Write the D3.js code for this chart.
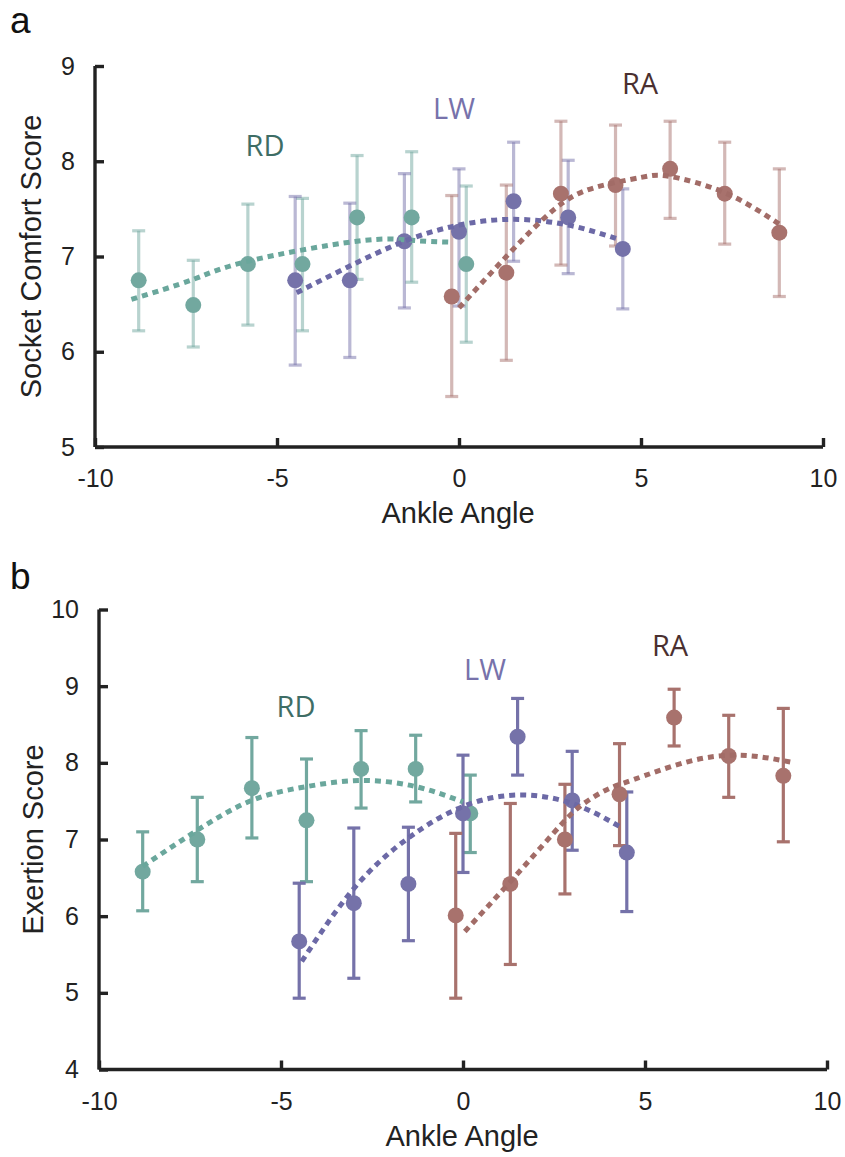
<!DOCTYPE html>
<html>
<head>
<meta charset="utf-8">
<script src="https://cdn.jsdelivr.net/npm/d3@7"></script>
<style>
  body { margin: 0; background: #fff; }
  svg { display: block; }
  .tick text { font-family: "Liberation Sans", Arial, sans-serif; }
</style>
</head>
<body>
<svg id="chart" width="845" height="1157"></svg>
<script>
// ankle angle of each condition (same in both panels)
var rdAngle = [-8.8, -7.3, -5.8, -4.3, -2.8, -1.3, 0.2];
var lwAngle = [-4.5, -3.0, -1.5, 0.0, 1.5, 3.0, 4.5];
var raAngle = [-0.2, 1.3, 2.8, 4.3, 5.8, 7.3, 8.8];

// panel a - socket comfort
var comfortRD   = [6.75, 6.49, 6.92, 6.92, 7.41, 7.41, 6.92];
var comfortRDlo = [6.22, 6.05, 6.28, 6.22, 6.76, 6.73, 6.10];
var comfortRDhi = [7.27, 6.96, 7.55, 7.61, 8.06, 8.10, 7.74];
var comfortLW   = [6.75, 6.75, 7.16, 7.26, 7.58, 7.41, 7.08];
var comfortLWlo = [5.86, 5.94, 6.46, 6.48, 6.95, 6.82, 6.45];
var comfortLWhi = [7.63, 7.56, 7.87, 7.92, 8.20, 8.01, 7.71];
var comfortRA   = [6.58, 6.83, 7.66, 7.75, 7.92, 7.66, 7.25];
var comfortRAlo = [5.53, 5.91, 6.91, 7.11, 7.40, 7.13, 6.58];
var comfortRAhi = [7.64, 7.75, 8.42, 8.38, 8.42, 8.20, 7.92];

// fitted curves
var comfortFitRDx = [-9.0, -7.3, -5.8, -2.8, -1.3, -0.2];
var comfortFitRDy = [6.55, 6.76, 6.95, 7.16, 7.17, 7.15];
var comfortFitLWx = [-4.46, -3.0, -1.5, 0.0, 1.5, 3.0, 4.4];
var comfortFitLWy = [6.62, 6.90, 7.16, 7.33, 7.39, 7.33, 7.18];
var comfortFitRAx = [0.0, 1.3, 2.6, 3.7, 5.0, 5.8, 7.3, 8.8];
var comfortFitRAy = [6.46, 7.00, 7.49, 7.72, 7.83, 7.84, 7.67, 7.34];

// panel b - exertion
var exertRD   = [6.58, 7.00, 7.67, 7.25, 7.92, 7.92, 7.34];
var exertRDlo = [6.07, 6.45, 7.02, 6.45, 7.41, 7.49, 6.83];
var exertRDhi = [7.10, 7.55, 8.33, 8.05, 8.42, 8.36, 7.84];
var exertLW   = [5.67, 6.17, 6.42, 7.34, 8.34, 7.51, 6.83];
var exertLWlo = [4.93, 5.19, 5.68, 6.57, 7.84, 6.86, 6.06];
var exertLWhi = [6.43, 7.15, 7.16, 8.10, 8.84, 8.15, 7.62];
var exertRA   = [6.01, 6.42, 7.00, 7.59, 8.59, 8.09, 7.83];
var exertRAlo = [4.93, 5.37, 6.29, 6.92, 8.22, 7.55, 6.97];
var exertRAhi = [7.08, 7.47, 7.72, 8.25, 8.96, 8.62, 8.71];

var exertFitRDx = [-8.8, -7.3, -5.8, -4.3, -2.8, -1.3, 0.0];
var exertFitRDy = [6.65, 7.12, 7.51, 7.69, 7.77, 7.69, 7.49];
var exertFitLWx = [-4.43, -3.0, -1.5, 0.0, 1.5, 3.0, 4.3];
var exertFitLWy = [5.41, 6.36, 7.02, 7.43, 7.58, 7.47, 7.17];
var exertFitRAx = [0.05, 1.3, 2.48, 3.21, 3.95, 4.68, 6.14, 7.61, 9.0];
var exertFitRAy = [5.80, 6.45, 7.08, 7.43, 7.65, 7.78, 8.01, 8.10, 8.01];

var xTicks = [-10, -5, 0, 5, 10];
var comfortTicks = [5, 6, 7, 8, 9];
var exertTicks = [4, 5, 6, 7, 8, 9, 10];
var conditions = ["RD", "LW", "RA"];

var svg = d3.select("#chart");

function zip(xs, ys) {
  return xs.map(function(x, i) { return [x, ys[i]]; });
}

// plain hyphen minus like the original figure
function fmt(d) { return String(d); }

function drawPanel(p) {
  var x = d3.scaleLinear().domain([-10, 10]).range([p.left, p.right]);
  var y = d3.scaleLinear().domain(p.yDomain).range([p.bottom, p.top]);
  var g = svg.append("g");

  // axes (ticks inside, like matlab)
  var xAxis = g.append("g")
      .attr("transform", "translate(0," + p.bottom + ")")
      .call(d3.axisBottom(x).tickValues(xTicks).tickSize(-9).tickFormat(fmt));
  var yAxis = g.append("g")
      .attr("transform", "translate(" + p.left + ",0)")
      .call(d3.axisLeft(y).tickValues(p.yTicks).tickSize(-9).tickPadding(20).tickFormat(fmt));
  [xAxis, yAxis].forEach(function(a) {
    a.select(".domain").attr("stroke", "#222").attr("stroke-width", 3.4);
    a.selectAll(".tick line").attr("stroke", "#222").attr("stroke-width", 3.4);
    a.selectAll(".tick text").attr("fill", "#222").attr("font-size", 25);
  });
  xAxis.selectAll(".tick text").attr("dy", 0).attr("y", 40);
  xAxis.select(".domain").attr("d", "M" + p.left + ",0H" + p.right);
  yAxis.select(".domain").attr("d", "M0," + p.top + "V" + p.bottom);

  g.append("text")
      .attr("x", (p.left + p.right) / 2 - 1)
      .attr("y", p.bottom + 76)
      .attr("text-anchor", "middle")
      .attr("font-family", "Liberation Sans, Arial, sans-serif")
      .attr("font-size", 29)
      .attr("fill", "#222")
      .text("Ankle Angle");
  g.append("text")
      .attr("transform", "translate(" + p.yLabelX + "," + (p.top + p.bottom) / 2 + ") rotate(-90)")
      .attr("text-anchor", "middle")
      .attr("font-family", "Liberation Sans, Arial, sans-serif")
      .attr("font-size", 29)
      .attr("fill", "#222")
      .text(p.yLabel);
  g.append("text")
      .attr("x", 10)
      .attr("y", p.letterY)
      .attr("font-family", "Liberation Sans, Arial, sans-serif")
      .attr("font-size", 37)
      .attr("fill", "#111")
      .text(p.letter);

  var line = d3.line()
      .x(function(d) { return x(d[0]); })
      .y(function(d) { return y(d[1]); })
      .curve(d3.curveNatural);

  // error bars
  p.series.forEach(function(s) {
    var eb = g.append("g").attr("stroke", s.barColor).attr("stroke-opacity", s.barOpacity).attr("stroke-width", 3.2);
    s.angle.forEach(function(a, i) {
      var cx = x(a);
      eb.append("line").attr("x1", cx).attr("x2", cx).attr("y1", y(s.lo[i])).attr("y2", y(s.hi[i]));
      eb.append("line").attr("x1", cx - 6.5).attr("x2", cx + 6.5).attr("y1", y(s.lo[i])).attr("y2", y(s.lo[i]));
      eb.append("line").attr("x1", cx - 6.5).attr("x2", cx + 6.5).attr("y1", y(s.hi[i])).attr("y2", y(s.hi[i]));
    });
  });
  // means
  p.series.forEach(function(s) {
    g.append("g").selectAll("circle")
      .data(zip(s.angle, s.mean))
      .join("circle")
      .attr("cx", function(d) { return x(d[0]); })
      .attr("cy", function(d) { return y(d[1]); })
      .attr("r", 8)
      .attr("fill", s.color);
  });
  // dotted fits
  p.series.forEach(function(s) {
    g.append("path")
      .attr("d", line(zip(s.fitX, s.fitY)))
      .attr("fill", "none")
      .attr("stroke", s.fitColor)
      .attr("stroke-width", 5)
      .attr("stroke-dasharray", "6,5");
  });
  // condition labels
  p.series.forEach(function(s) {
    g.append("text")
      .attr("x", s.labelPos[0])
      .attr("y", s.labelPos[1])
      .attr("text-anchor", "middle")
      .attr("font-family", "Open Sans, Noto Sans, sans-serif")
      .attr("font-size", 29)
      .attr("fill", s.labelColor)
      .text(s.name);
  });
}

var teal = "#72a89f", purple = "#7572a9", brown = "#a8726d";

drawPanel({
  letter: "a", letterY: 33,
  left: 95, right: 823, top: 66, bottom: 447,
  yDomain: [5, 9], yTicks: comfortTicks, yLabel: "Socket Comfort Score", yLabelX: 41,
  series: [
    { name: conditions[0], angle: rdAngle, mean: comfortRD, lo: comfortRDlo, hi: comfortRDhi,
      fitX: comfortFitRDx, fitY: comfortFitRDy, color: teal, barColor: teal, barOpacity: 0.5,
      fitColor: "#6aa79c", labelColor: "#3e6d65", labelPos: [265, 156] },
    { name: conditions[1], angle: lwAngle, mean: comfortLW, lo: comfortLWlo, hi: comfortLWhi,
      fitX: comfortFitLWx, fitY: comfortFitLWy, color: purple, barColor: purple, barOpacity: 0.5,
      fitColor: "#6c69a6", labelColor: "#7772ab", labelPos: [454, 119] },
    { name: conditions[2], angle: raAngle, mean: comfortRA, lo: comfortRAlo, hi: comfortRAhi,
      fitX: comfortFitRAx, fitY: comfortFitRAy, color: brown, barColor: brown, barOpacity: 0.5,
      fitColor: "#a26c67", labelColor: "#4a3030", labelPos: [640, 94] }
  ]
});

drawPanel({
  letter: "b", letterY: 589,
  left: 99, right: 827, top: 609.5, bottom: 1069.5,
  yDomain: [4, 10], yTicks: exertTicks, yLabel: "Exertion Score", yLabelX: 43,
  series: [
    { name: conditions[0], angle: rdAngle, mean: exertRD, lo: exertRDlo, hi: exertRDhi,
      fitX: exertFitRDx, fitY: exertFitRDy, color: teal, barColor: teal, barOpacity: 1,
      fitColor: "#6aa79c", labelColor: "#3e6d65", labelPos: [296, 717] },
    { name: conditions[1], angle: lwAngle, mean: exertLW, lo: exertLWlo, hi: exertLWhi,
      fitX: exertFitLWx, fitY: exertFitLWy, color: purple, barColor: purple, barOpacity: 1,
      fitColor: "#6c69a6", labelColor: "#7772ab", labelPos: [485, 680] },
    { name: conditions[2], angle: raAngle, mean: exertRA, lo: exertRAlo, hi: exertRAhi,
      fitX: exertFitRAx, fitY: exertFitRAy, color: brown, barColor: brown, barOpacity: 1,
      fitColor: "#a26c67", labelColor: "#4a3030", labelPos: [670, 656] }
  ]
});
</script>
</body>
</html>
